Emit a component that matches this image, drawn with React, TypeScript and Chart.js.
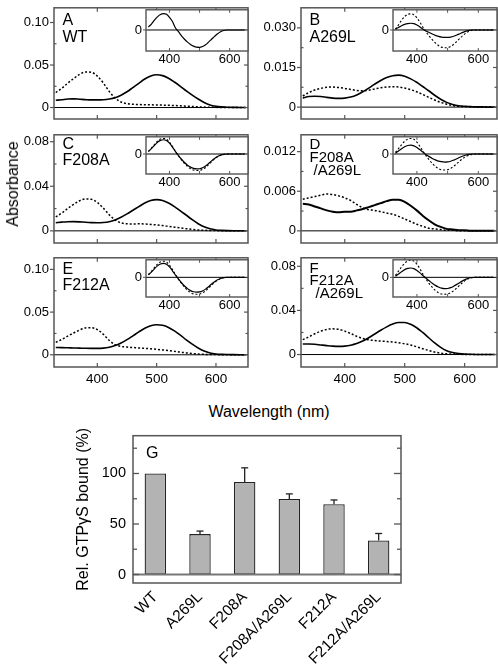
import React, { useEffect, useRef } from 'react';
import { Chart, registerables } from 'chart.js';

Chart.register(...registerables);

const FONT = "'Liberation Sans', Arial, Helvetica, sans-serif";
const FRAME = '#555';

// ---------- spectra data (Absorbance vs wavelength, nm) ----------
const wavelengths = [330, 340, 350, 360, 370, 380, 390, 400, 410, 420, 430, 440, 450, 460, 470, 480, 490, 500, 510, 520, 530, 540, 550, 560, 570, 580, 590, 600, 610, 620, 630, 640, 650];
const spectrumTicks = [400, 500, 600];
const insetLabelTicks = [400, 600];

const wtDark = [0.0085, 0.0092, 0.0100, 0.0102, 0.0098, 0.0093, 0.0090, 0.0090, 0.0092, 0.0100, 0.0115, 0.0145, 0.0185, 0.0235, 0.0285, 0.0335, 0.0370, 0.0385, 0.0375, 0.0345, 0.0300, 0.0250, 0.0195, 0.0145, 0.0100, 0.0060, 0.0030, 0.0015, 0.0008, 0.0004, 0.0002, 0.0001, 0.0000];
const wtLight = [0.0176, 0.0225, 0.0285, 0.0340, 0.0390, 0.0418, 0.0415, 0.0370, 0.0290, 0.0190, 0.0110, 0.0065, 0.0045, 0.0038, 0.0035, 0.0033, 0.0032, 0.0030, 0.0028, 0.0026, 0.0024, 0.0020, 0.0016, 0.0012, 0.0008, 0.0005, 0.0003, 0.0002, 0.0001, 0.0001, 0.0000, 0.0000, 0.0000];

const a269lDark = [0.0034, 0.0040, 0.0041, 0.0040, 0.0037, 0.0034, 0.0033, 0.0034, 0.0038, 0.0046, 0.0058, 0.0072, 0.0087, 0.0101, 0.0112, 0.0119, 0.0121, 0.0117, 0.0107, 0.0094, 0.0078, 0.0062, 0.0045, 0.0030, 0.0018, 0.0010, 0.0005, 0.0003, 0.0002, 0.0001, 0.0001, 0.0000, 0.0000];
const a269lLight = [0.0042, 0.0055, 0.0065, 0.0071, 0.0075, 0.0076, 0.0074, 0.0071, 0.0067, 0.0063, 0.0062, 0.0064, 0.0069, 0.0073, 0.0076, 0.0077, 0.0076, 0.0072, 0.0066, 0.0058, 0.0048, 0.0037, 0.0027, 0.0018, 0.0011, 0.0006, 0.0003, 0.0002, 0.0001, 0.0001, 0.0000, 0.0000, 0.0000];

const f208aDark = [0.0073, 0.0078, 0.0082, 0.0083, 0.0081, 0.0077, 0.0074, 0.0073, 0.0075, 0.0082, 0.0098, 0.0122, 0.0152, 0.0185, 0.0218, 0.0250, 0.0272, 0.0280, 0.0273, 0.0250, 0.0218, 0.0180, 0.0140, 0.0100, 0.0064, 0.0036, 0.0018, 0.0008, 0.0004, 0.0002, 0.0001, 0.0001, 0.0000];
const f208aLight = [0.0125, 0.0160, 0.0200, 0.0238, 0.0270, 0.0287, 0.0283, 0.0255, 0.0205, 0.0145, 0.0098, 0.0072, 0.0063, 0.0062, 0.0063, 0.0062, 0.0058, 0.0053, 0.0047, 0.0040, 0.0033, 0.0026, 0.0019, 0.0013, 0.0008, 0.0005, 0.0003, 0.0002, 0.0001, 0.0001, 0.0000, 0.0000, 0.0000];

const f208aA269lDark = [0.0041, 0.0040, 0.0037, 0.0034, 0.0031, 0.0029, 0.0028, 0.0029, 0.0029, 0.0031, 0.0033, 0.0036, 0.0039, 0.0042, 0.0045, 0.0047, 0.0047, 0.0044, 0.0038, 0.0031, 0.0023, 0.0016, 0.0010, 0.0006, 0.0003, 0.0002, 0.0001, 0.0001, 0.0000, 0.0000, 0.0000, 0.0000, 0.0000];
const f208aA269lLight = [0.0048, 0.0050, 0.0052, 0.0054, 0.0056, 0.0055, 0.0053, 0.0050, 0.0046, 0.0040, 0.0035, 0.0032, 0.0031, 0.0029, 0.0027, 0.0025, 0.0022, 0.0018, 0.0014, 0.0010, 0.0007, 0.0004, 0.0003, 0.0002, 0.0001, 0.0001, 0.0000, 0.0000, 0.0000, 0.0000, 0.0000, 0.0000, 0.0000];

const f212aDark = [0.0085, 0.0084, 0.0082, 0.0080, 0.0078, 0.0076, 0.0075, 0.0075, 0.0078, 0.0088, 0.0108, 0.0138, 0.0177, 0.0222, 0.0268, 0.0310, 0.0340, 0.0352, 0.0345, 0.0320, 0.0280, 0.0230, 0.0175, 0.0125, 0.0080, 0.0045, 0.0022, 0.0010, 0.0005, 0.0003, 0.0002, 0.0001, 0.0000];
const f212aLight = [0.0145, 0.0180, 0.0218, 0.0255, 0.0290, 0.0315, 0.0318, 0.0295, 0.0240, 0.0170, 0.0118, 0.0098, 0.0090, 0.0085, 0.0080, 0.0075, 0.0070, 0.0064, 0.0057, 0.0049, 0.0040, 0.0031, 0.0022, 0.0015, 0.0009, 0.0005, 0.0003, 0.0002, 0.0001, 0.0001, 0.0000, 0.0000, 0.0000];

const f212aA269lDark = [0.0095, 0.0096, 0.0093, 0.0087, 0.0081, 0.0076, 0.0074, 0.0076, 0.0085, 0.0100, 0.0122, 0.0152, 0.0186, 0.0220, 0.0251, 0.0276, 0.0290, 0.0290, 0.0274, 0.0243, 0.0200, 0.0152, 0.0105, 0.0065, 0.0035, 0.0018, 0.0009, 0.0004, 0.0002, 0.0001, 0.0001, 0.0000, 0.0000];
const f212aA269lLight = [0.0135, 0.0160, 0.0188, 0.0212, 0.0228, 0.0233, 0.0228, 0.0212, 0.0190, 0.0165, 0.0145, 0.0133, 0.0127, 0.0122, 0.0118, 0.0113, 0.0106, 0.0098, 0.0086, 0.0070, 0.0053, 0.0037, 0.0023, 0.0013, 0.0007, 0.0004, 0.0002, 0.0001, 0.0000, 0.0000, 0.0000, 0.0000, 0.0000];

// ---------- inset difference spectra (relative units) ----------
const wtDiff = [0.18, 0.35, 0.58, 0.78, 0.92, 0.97, 0.93, 0.75, 0.50, 0.12, -0.10, -0.35, -0.55, -0.72, -0.86, -0.96, -1.02, -1.03, -0.98, -0.88, -0.72, -0.55, -0.38, -0.22, -0.10, -0.03, 0, 0, 0, 0, 0, 0, 0];
const a269lDiffSolid = [0.05, 0.15, 0.25, 0.33, 0.38, 0.40, 0.38, 0.30, 0.18, 0.05, -0.06, -0.15, -0.24, -0.32, -0.38, -0.42, -0.44, -0.44, -0.42, -0.37, -0.30, -0.22, -0.14, -0.07, -0.02, 0, 0, 0, 0, 0, 0, 0, 0];
const a269lDiffDashed = [0.05, 0.30, 0.58, 0.80, 0.93, 0.96, 0.90, 0.72, 0.45, 0.15, -0.12, -0.36, -0.58, -0.77, -0.92, -1.02, -1.06, -1.05, -0.98, -0.85, -0.68, -0.50, -0.33, -0.18, -0.07, -0.02, 0, 0, 0, 0, 0, 0, 0];
const f208aDiffSolid = [0.15, 0.33, 0.53, 0.71, 0.83, 0.87, 0.82, 0.66, 0.42, 0.15, -0.10, -0.32, -0.52, -0.68, -0.80, -0.88, -0.91, -0.90, -0.84, -0.73, -0.58, -0.42, -0.27, -0.15, -0.07, -0.02, 0, 0, 0, 0, 0, 0, 0];
const f208aDiffDashed = [0.16, 0.36, 0.58, 0.78, 0.91, 0.95, 0.90, 0.72, 0.46, 0.16, -0.11, -0.36, -0.58, -0.76, -0.90, -0.98, -1.01, -1.00, -0.94, -0.82, -0.65, -0.47, -0.30, -0.17, -0.08, -0.03, -0.01, 0, 0, 0, 0, 0, 0];
const f208aA269lDiffSolid = [0.05, 0.18, 0.32, 0.44, 0.52, 0.54, 0.50, 0.40, 0.26, 0.10, -0.04, -0.16, -0.27, -0.36, -0.43, -0.47, -0.49, -0.48, -0.44, -0.37, -0.29, -0.20, -0.12, -0.06, -0.02, 0, 0, 0, 0, 0, 0, 0, 0];
const f208aA269lDiffDashed = [0.10, 0.33, 0.57, 0.78, 0.91, 0.95, 0.90, 0.72, 0.46, 0.16, -0.11, -0.36, -0.58, -0.76, -0.89, -0.97, -0.98, -0.96, -0.88, -0.75, -0.59, -0.42, -0.27, -0.15, -0.07, -0.02, 0, 0, 0, 0, 0, 0, 0];
const f212aDiffSolid = [0.15, 0.32, 0.52, 0.70, 0.81, 0.85, 0.80, 0.64, 0.40, 0.13, -0.11, -0.33, -0.53, -0.69, -0.81, -0.88, -0.90, -0.89, -0.83, -0.72, -0.57, -0.41, -0.27, -0.15, -0.07, -0.02, 0, 0, 0, 0, 0, 0, 0];
const f212aDiffDashed = [0.17, 0.37, 0.60, 0.81, 0.94, 0.98, 0.93, 0.74, 0.47, 0.16, -0.12, -0.37, -0.60, -0.79, -0.93, -1.01, -1.03, -1.02, -0.95, -0.83, -0.66, -0.48, -0.31, -0.18, -0.08, -0.03, -0.01, 0, 0, 0, 0, 0, 0];
const f212aA269lDiffSolid = [0.06, 0.20, 0.34, 0.47, 0.55, 0.57, 0.53, 0.42, 0.27, 0.10, -0.06, -0.21, -0.36, -0.49, -0.59, -0.66, -0.69, -0.68, -0.63, -0.54, -0.43, -0.31, -0.20, -0.11, -0.04, -0.01, 0, 0, 0, 0, 0, 0, 0];
const f212aA269lDiffDashed = [0.12, 0.38, 0.64, 0.86, 1.00, 1.05, 0.99, 0.80, 0.51, 0.18, -0.12, -0.38, -0.61, -0.80, -0.94, -1.02, -1.03, -1.01, -0.94, -0.82, -0.65, -0.47, -0.30, -0.17, -0.07, -0.02, 0, 0, 0, 0, 0, 0, 0];

// ---------- bar chart data ----------
const mutants = ['WT', 'A269L', 'F208A', 'F208A/A269L', 'F212A', 'F212A/A269L'];
const bound = [100, 40, 91.6, 74.8, 69.5, 33.6];
const boundErr = [0, 3, 14, 5, 4.3, 7];
const boundTicks = [0, 50, 100];
const boundMinorTicks = [25, 75, 125];

// ---------- helpers ----------
function seg(ctx: any, x1: number, y1: number, x2: number, y2: number) {
  ctx.beginPath();
  ctx.moveTo(x1, y1);
  ctx.lineTo(x2, y2);
  ctx.stroke();
}

function CanvasChart({ left, top, width, height, make }: any) {
  const ref = useRef<HTMLCanvasElement>(null);
  useEffect(() => {
    const chart = new Chart(ref.current as HTMLCanvasElement, make());
    return () => chart.destroy();
  }, []);
  return (
    <canvas
      ref={ref}
      width={width}
      height={height}
      style={{ position: 'absolute', left, top, width, height }}
    />
  );
}

const PAD = { l: 54, t: 6, r: 1, b: 24 };

function spectrumConfig(p: any) {
  const pts = (arr: number[]) => wavelengths.map((x, i) => ({ x, y: arr[i] }));
  const plugin = {
    id: 'panelFrame',
    beforeDatasetsDraw(chart: any) {
      const { ctx, chartArea: a, scales } = chart;
      const y0 = scales.y.getPixelForValue(0);
      ctx.save();
      ctx.strokeStyle = '#000';
      ctx.lineWidth = 1;
      seg(ctx, a.left, y0, a.right, y0);
      ctx.restore();
    },
    afterDatasetsDraw(chart: any) {
      const { ctx, chartArea: a, scales } = chart;
      ctx.save();
      ctx.strokeStyle = FRAME;
      ctx.lineWidth = 1.5;
      ctx.strokeRect(a.left, a.top, a.right - a.left, a.bottom - a.top);
      ctx.lineWidth = 1.2;
      for (const v of spectrumTicks) {
        const x = scales.x.getPixelForValue(v);
        seg(ctx, x, a.top, x, a.top + 4);
        seg(ctx, x, a.bottom, x, a.bottom - 4);
      }
      for (const v of p.yMajor) {
        const y = scales.y.getPixelForValue(v);
        seg(ctx, a.left - 4, y, a.left, y);
        seg(ctx, a.right, y, a.right - 4, y);
      }
      for (const v of p.yMinor) {
        const y = scales.y.getPixelForValue(v);
        seg(ctx, a.left, y, a.left + 2.5, y);
        seg(ctx, a.right, y, a.right - 2.5, y);
      }
      ctx.fillStyle = '#000';
      ctx.font = `${p.labelSize}px ${FONT}`;
      ctx.textAlign = 'left';
      ctx.textBaseline = 'middle';
      p.label.forEach((ln: any, i: number) => {
        ctx.fillText(ln.text, a.left + 8.5 + ln.indent, a.top + p.labelY + i * p.labelStep);
      });
      ctx.restore();
    },
  };
  return {
    type: 'line',
    data: {
      datasets: [
        { data: pts(p.dashed), borderColor: '#000', borderWidth: 1.5, borderDash: [2, 2], pointRadius: 0, cubicInterpolationMode: 'monotone', fill: false },
        { data: pts(p.solid), borderColor: '#000', borderWidth: p.solidWidth, pointRadius: 0, cubicInterpolationMode: 'monotone', fill: false },
      ],
    },
    options: {
      animation: false,
      responsive: false,
      devicePixelRatio: 1,
      events: [],
      layout: { padding: { left: 0, top: PAD.t, right: PAD.r, bottom: 0 } },
      plugins: { legend: { display: false }, tooltip: { enabled: false } },
      scales: {
        x: {
          type: 'linear', min: 327, max: 654,
          afterBuildTicks: (s: any) => { s.ticks = spectrumTicks.map((v) => ({ value: v })); },
          afterFit: (s: any) => { s.height = PAD.b; },
          grid: { display: false, drawTicks: false },
          border: { display: false },
          ticks: { display: p.showX, color: '#000', font: { family: FONT, size: 13.5 }, padding: 4, maxRotation: 0, autoSkip: false, callback: (v: any) => String(v) },
        },
        y: {
          type: 'linear', min: p.yMin, max: p.yMax,
          afterBuildTicks: (s: any) => { s.ticks = p.yMajor.map((v: number) => ({ value: v })); },
          afterFit: (s: any) => { s.width = PAD.l; },
          grid: { display: false, drawTicks: false },
          border: { display: false },
          ticks: { color: '#000', font: { family: FONT, size: 13 }, padding: 5, autoSkip: false, callback: (_v: any, i: number) => p.yText[i] },
        },
      },
    },
    plugins: [plugin],
  };
}

const IPAD = { l: 22, t: 3, r: 1, b: 16 };

function insetConfig(p: any) {
  const pts = (arr: number[]) => wavelengths.map((x, i) => ({ x, y: arr[i] }));
  const datasets: any[] = [];
  if (p.dashed) datasets.push({ data: pts(p.dashed), borderColor: '#000', borderWidth: 1.1, borderDash: [2, 2], pointRadius: 0, cubicInterpolationMode: 'monotone', fill: false });
  datasets.push({ data: pts(p.solid), borderColor: '#000', borderWidth: 1.2, pointRadius: 0, cubicInterpolationMode: 'monotone', fill: false });
  const plugin = {
    id: 'insetFrame',
    beforeDraw(chart: any) {
      const { ctx, chartArea: a } = chart;
      ctx.save();
      ctx.fillStyle = '#fff';
      ctx.fillRect(a.left, a.top, a.right - a.left, a.bottom - a.top);
      ctx.restore();
    },
    beforeDatasetsDraw(chart: any) {
      const { ctx, chartArea: a, scales } = chart;
      const y0 = scales.y.getPixelForValue(0);
      ctx.save();
      ctx.strokeStyle = '#000';
      ctx.lineWidth = 1;
      seg(ctx, a.left, y0, a.right, y0);
      ctx.restore();
    },
    afterDatasetsDraw(chart: any) {
      const { ctx, chartArea: a, scales } = chart;
      ctx.save();
      ctx.strokeStyle = FRAME;
      ctx.lineWidth = 1.4;
      ctx.strokeRect(a.left, a.top, a.right - a.left, a.bottom - a.top);
      ctx.lineWidth = 1;
      for (const v of spectrumTicks) {
        const x = scales.x.getPixelForValue(v);
        seg(ctx, x, a.top, x, a.top + 3);
        seg(ctx, x, a.bottom, x, a.bottom - 3);
      }
      const y0 = scales.y.getPixelForValue(0);
      seg(ctx, a.left - 3, y0, a.left, y0);
      ctx.restore();
    },
  };
  return {
    type: 'line',
    data: { datasets },
    options: {
      animation: false,
      responsive: false,
      devicePixelRatio: 1,
      events: [],
      layout: { padding: { left: 0, top: IPAD.t, right: IPAD.r, bottom: 0 } },
      plugins: { legend: { display: false }, tooltip: { enabled: false } },
      scales: {
        x: {
          type: 'linear', min: 322, max: 661,
          afterBuildTicks: (s: any) => { s.ticks = insetLabelTicks.map((v) => ({ value: v })); },
          afterFit: (s: any) => { s.height = IPAD.b; },
          grid: { display: false, drawTicks: false },
          border: { display: false },
          ticks: { color: '#000', font: { family: FONT, size: 13 }, padding: 1, maxRotation: 0, autoSkip: false, callback: (v: any) => String(v) },
        },
        y: {
          type: 'linear', min: p.yMin, max: p.yMax,
          afterBuildTicks: (s: any) => { s.ticks = [{ value: 0 }]; },
          afterFit: (s: any) => { s.width = IPAD.l; },
          grid: { display: false, drawTicks: false },
          border: { display: false },
          ticks: { color: '#000', font: { family: FONT, size: 13 }, padding: 4, callback: () => '0' },
        },
      },
    },
    plugins: [plugin],
  };
}

function barConfig() {
  const plugin = {
    id: 'barExtras',
    afterDatasetsDraw(chart: any) {
      const { ctx, chartArea: a, scales } = chart;
      const meta = chart.getDatasetMeta(0);
      ctx.save();
      // error bars
      ctx.strokeStyle = '#222';
      ctx.lineWidth = 1.3;
      meta.data.forEach((bar: any, i: number) => {
        if (!boundErr[i]) return;
        const yTop = scales.y.getPixelForValue(bound[i] + boundErr[i]);
        seg(ctx, bar.x, bar.y, bar.x, yTop);
        seg(ctx, bar.x - 3.5, yTop, bar.x + 3.5, yTop);
      });
      // zero line
      const y0 = scales.y.getPixelForValue(0);
      ctx.strokeStyle = '#777';
      ctx.lineWidth = 2;
      seg(ctx, a.left, y0, a.right, y0);
      // frame
      ctx.strokeStyle = FRAME;
      ctx.lineWidth = 1.5;
      ctx.strokeRect(a.left, a.top, a.right - a.left, a.bottom - a.top);
      ctx.lineWidth = 1.3;
      for (const v of boundTicks) {
        const y = scales.y.getPixelForValue(v);
        seg(ctx, a.left, y, a.left + 6, y);
        seg(ctx, a.right, y, a.right - 7, y);
      }
      for (const v of boundMinorTicks) {
        const y = scales.y.getPixelForValue(v);
        seg(ctx, a.left, y, a.left + 4, y);
        seg(ctx, a.right, y, a.right - 4, y);
      }
      ctx.fillStyle = '#000';
      ctx.font = `16px ${FONT}`;
      ctx.textAlign = 'left';
      ctx.textBaseline = 'middle';
      ctx.fillText('G', a.left + 13, a.top + 18);
      ctx.restore();
    },
  };
  return {
    type: 'bar',
    data: {
      labels: mutants,
      datasets: [{
        data: bound,
        backgroundColor: '#b3b3b3',
        borderColor: '#222',
        borderWidth: 1.3,
        borderSkipped: false,
        barPercentage: 0.48,
        categoryPercentage: 1,
      }],
    },
    options: {
      animation: false,
      responsive: false,
      devicePixelRatio: 1,
      events: [],
      layout: { padding: { left: 0, top: 7, right: 9, bottom: 0 } },
      plugins: { legend: { display: false }, tooltip: { enabled: false } },
      scales: {
        x: {
          grid: { display: false, drawTicks: false },
          border: { display: false },
          afterFit: (s: any) => { s.height = 81; },
          ticks: { color: '#000', font: { family: FONT, size: 15.5 }, minRotation: 45, maxRotation: 45, padding: 5, autoSkip: false },
        },
        y: {
          min: -8.4, max: 137.4,
          afterBuildTicks: (s: any) => { s.ticks = boundTicks.map((v) => ({ value: v })); },
          afterFit: (s: any) => { s.width = 133; },
          grid: { display: false, drawTicks: false },
          border: { display: false },
          ticks: { color: '#000', font: { family: FONT, size: 14.5 }, padding: 7 },
          title: { display: true, text: 'Rel. GTPγS bound (%)', color: '#000', font: { family: FONT, size: 16 }, padding: { top: 74, bottom: 0 } },
        },
      },
    },
    plugins: [plugin],
  };
}

// ---------- panel layout ----------
const panels = [
  { key: 'A', left: 54, top: 1, width: 194, height: 118, yMin: -0.0135, yMax: 0.1173, yMajor: [0, 0.05, 0.1], yText: ['0', '0.05', '0.10'], yMinor: [0.025, 0.075], solid: wtDark, dashed: wtLight, showX: false, label: [{ text: 'A', indent: 0 }, { text: 'WT', indent: 0 }], labelSize: 16, labelY: 13, labelStep: 17, solidWidth: 1.6,
    inset: { left: 146, top: 1, width: 102, height: 50, yMin: -1.25, yMax: 1.2, solid: wtDiff, dashed: null } },
  { key: 'B', left: 301, top: 1, width: 196, height: 118, yMin: -0.0045, yMax: 0.0376, yMajor: [0, 0.015, 0.03], yText: ['0', '0.015', '0.030'], yMinor: [0.0075, 0.0225], solid: a269lDark, dashed: a269lLight, showX: false, label: [{ text: 'B', indent: 0 }, { text: 'A269L', indent: 0 }], labelSize: 16, labelY: 13, labelStep: 17, solidWidth: 1.6,
    inset: { left: 393, top: 1, width: 104, height: 50, yMin: -1.25, yMax: 1.2, solid: a269lDiffSolid, dashed: a269lDiffDashed } },
  { key: 'C', left: 54, top: 128, width: 194, height: 115, yMin: -0.0109, yMax: 0.0862, yMajor: [0, 0.04, 0.08], yText: ['0', '0.04', '0.08'], yMinor: [0.02, 0.06], solid: f208aDark, dashed: f208aLight, showX: false, label: [{ text: 'C', indent: 0 }, { text: 'F208A', indent: 0 }], labelSize: 16, labelY: 10, labelStep: 16, solidWidth: 1.6,
    inset: { left: 146, top: 128, width: 102, height: 46, yMin: -1.22, yMax: 1.05, solid: f208aDiffSolid, dashed: f208aDiffDashed } },
  { key: 'D', left: 301, top: 128, width: 196, height: 115, yMin: -0.00184, yMax: 0.01455, yMajor: [0, 0.006, 0.012], yText: ['0', '0.006', '0.012'], yMinor: [0.003, 0.009], solid: f208aA269lDark, dashed: f208aA269lLight, showX: false, label: [{ text: 'D', indent: 0 }, { text: 'F208A', indent: 0 }, { text: '/A269L', indent: 4 }], labelSize: 15, labelY: 10, labelStep: 13, solidWidth: 2,
    inset: { left: 393, top: 128, width: 104, height: 46, yMin: -1.22, yMax: 1.05, solid: f208aA269lDiffSolid, dashed: f208aA269lDiffDashed } },
  { key: 'E', left: 54, top: 251, width: 194, height: 116, yMin: -0.0143, yMax: 0.1136, yMajor: [0, 0.05, 0.1], yText: ['0', '0.05', '0.10'], yMinor: [0.025, 0.075], solid: f212aDark, dashed: f212aLight, showX: true, label: [{ text: 'E', indent: 0 }, { text: 'F212A', indent: 0 }], labelSize: 16, labelY: 12, labelStep: 16, solidWidth: 1.6,
    inset: { left: 146, top: 251, width: 102, height: 46, yMin: -1.2, yMax: 1.07, solid: f212aDiffSolid, dashed: f212aDiffDashed } },
  { key: 'F', left: 301, top: 251, width: 196, height: 116, yMin: -0.0113, yMax: 0.0877, yMajor: [0, 0.04, 0.08], yText: ['0', '0.04', '0.08'], yMinor: [0.02, 0.06], solid: f212aA269lDark, dashed: f212aA269lLight, showX: true, label: [{ text: 'F', indent: 0 }, { text: 'F212A', indent: 0 }, { text: '/A269L', indent: 6 }], labelSize: 15, labelY: 11, labelStep: 12.5, solidWidth: 1.6,
    inset: { left: 393, top: 251, width: 104, height: 46, yMin: -1.2, yMax: 1.07, solid: f212aA269lDiffSolid, dashed: f212aA269lDiffDashed } },
];

export default function App() {
  return (
    <div style={{ position: 'absolute', left: 0, top: 0, width: 498, height: 664, background: '#fff', overflow: 'hidden', fontFamily: FONT }}>
      {panels.map((p) => (
        <CanvasChart
          key={p.key}
          left={p.left - PAD.l}
          top={p.top - PAD.t}
          width={p.width + PAD.l + PAD.r}
          height={p.height + PAD.t + PAD.b}
          make={() => spectrumConfig(p)}
        />
      ))}
      {panels.map((p) => (
        <CanvasChart
          key={p.key + '-inset'}
          left={p.inset.left - IPAD.l}
          top={p.inset.top - IPAD.t}
          width={p.inset.width + IPAD.l + IPAD.r}
          height={p.inset.height + IPAD.t + IPAD.b}
          make={() => insetConfig(p.inset)}
        />
      ))}
      <div style={{ position: 'absolute', left: 13, top: 184, transform: 'translate(-50%, -50%) rotate(-90deg)', fontSize: 16, whiteSpace: 'nowrap', color: '#000', lineHeight: 1 }}>Absorbance</div>
      <div style={{ position: 'absolute', left: 269, top: 412, transform: 'translate(-50%, -50%)', fontSize: 16, whiteSpace: 'nowrap', color: '#000', lineHeight: 1 }}>Wavelength (nm)</div>
      <CanvasChart left={0} top={420} width={410} height={244} make={barConfig} />
    </div>
  );
}
